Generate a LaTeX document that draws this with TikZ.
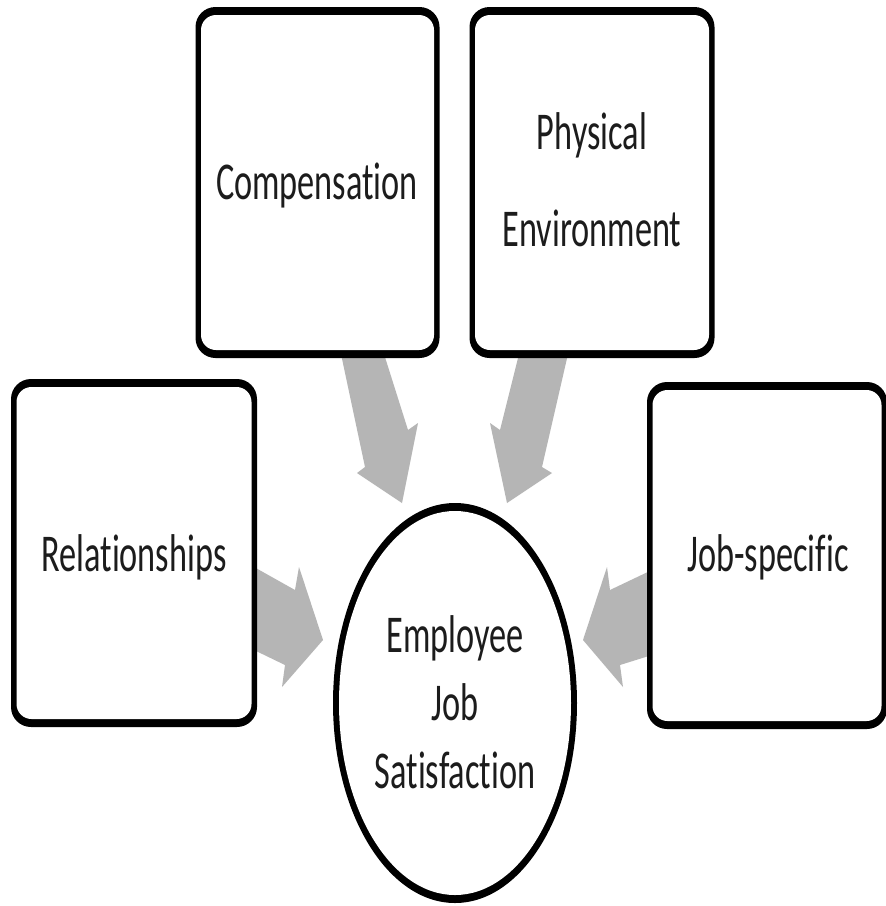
\documentclass[tikz,border=0pt]{standalone}
\usepackage{fontspec}
\setmainfont[Ligatures={NoCommon}]{Carlito}
\usepackage{graphicx}
\usetikzlibrary{shapes.geometric}
\definecolor{arrowgray}{RGB}{181,181,181}
\definecolor{txtcol}{RGB}{28,28,28}
\newcommand{\tallt}[1]{\scalebox{1}[1.55]{#1}}
\begin{document}
\begin{tikzpicture}[x=1pt,y=-1pt,
  frameout/.style={fill=black, rounded corners=20pt, inner sep=0pt, draw=none},
  framein/.style={fill=white, rounded corners=15pt, inner sep=0pt, draw=none},
  ellout/.style={ellipse, fill=black, inner sep=0pt, draw=none},
  ellin/.style={ellipse, fill=white, inner sep=0pt, draw=none},
  lbl/.style={text=txtcol, align=center, inner sep=0pt, font=\fontsize{34.3}{97}\selectfont},
  lblc/.style={text=txtcol, align=center, inner sep=0pt, font=\fontsize{34.3}{68}\selectfont},
  blockarrow/.style={fill=arrowgray, draw=none}]
\useasboundingbox (0,0) rectangle (886,906);
\fill[white] (0,0) rectangle (886,906);

% block arrows (drawn first, tails hidden by boxes)
\coordinate (ca1) at (341,354);
\coordinate (ca2) at (384,354);
\coordinate (ca3) at (408,430);
\coordinate (ca4) at (418,423);
\coordinate (ca5) at (402,503);
\coordinate (ca6) at (357,473);
\coordinate (ca7) at (365,467);
\fill[blockarrow] (ca1) -- (ca2) -- (ca3) -- (ca4) -- (ca5) -- (ca6) -- (ca7) -- cycle;

\coordinate (pa1) at (519,354);
\coordinate (pa2) at (568,354);
\coordinate (pa3) at (542,467);
\coordinate (pa4) at (552,473);
\coordinate (pa5) at (507,503);
\coordinate (pa6) at (490,423);
\coordinate (pa7) at (500,430);
\fill[blockarrow] (pa1) -- (pa2) -- (pa3) -- (pa4) -- (pa5) -- (pa6) -- (pa7) -- cycle;

\coordinate (ra1) at (254,567);
\coordinate (ra2) at (295,590);
\coordinate (ra3) at (299,567);
\coordinate (ra4) at (323,640);
\coordinate (ra5) at (282,687);
\coordinate (ra6) at (285,665);
\coordinate (ra7) at (254,650);
\fill[blockarrow] (ra1) -- (ra2) -- (ra3) -- (ra4) -- (ra5) -- (ra6) -- (ra7) -- cycle;

\coordinate (ja1) at (652,570);
\coordinate (ja2) at (610,590);
\coordinate (ja3) at (607,567);
\coordinate (ja4) at (583,640);
\coordinate (ja5) at (623,687);
\coordinate (ja6) at (620,665);
\coordinate (ja7) at (652,655);
\fill[blockarrow] (ja1) -- (ja2) -- (ja3) -- (ja4) -- (ja5) -- (ja6) -- (ja7) -- cycle;

% boxes
\node[frameout, minimum width=244pt, minimum height=351pt] (comp) at (317.5,182.5) {};
\node[framein, minimum width=233pt, minimum height=335pt] (compin) at (comp) {};
\node[frameout, minimum width=245pt, minimum height=351pt] (phys) at (592,182.5) {};
\node[framein, minimum width=234pt, minimum height=335pt] (physin) at (phys) {};
\node[frameout, minimum width=246pt, minimum height=348pt] (rel) at (134,553) {};
\node[framein, minimum width=235pt, minimum height=332pt] (relin) at (rel) {};
\node[frameout, minimum width=240pt, minimum height=347pt] (job) at (767,555.5) {};
\node[framein, minimum width=229pt, minimum height=331pt] (jobin) at (job) {};

% ellipse
\node[ellout, minimum width=244pt, minimum height=400pt] (ejs) at (455,703) {};
\node[ellin, minimum width=232pt, minimum height=384pt] (ejsin) at (ejs) {};

% texts
\node[lbl] (compT) at (317,185) {\tallt{Compensation}};
\node[lbl] (physT) at (592,180) {\tallt{Physical}\\\tallt{Environment}};
\node[lbl] (relT) at (134,557) {\tallt{Relationships}};
\node[lbl] (jobT) at (768,557) {\tallt{Job-specific}};
\node[lblc] (ejsT) at (455,702) {\tallt{Employee}\\\tallt{Job}\\\tallt{Satisfaction}};
\end{tikzpicture}
\end{document}
